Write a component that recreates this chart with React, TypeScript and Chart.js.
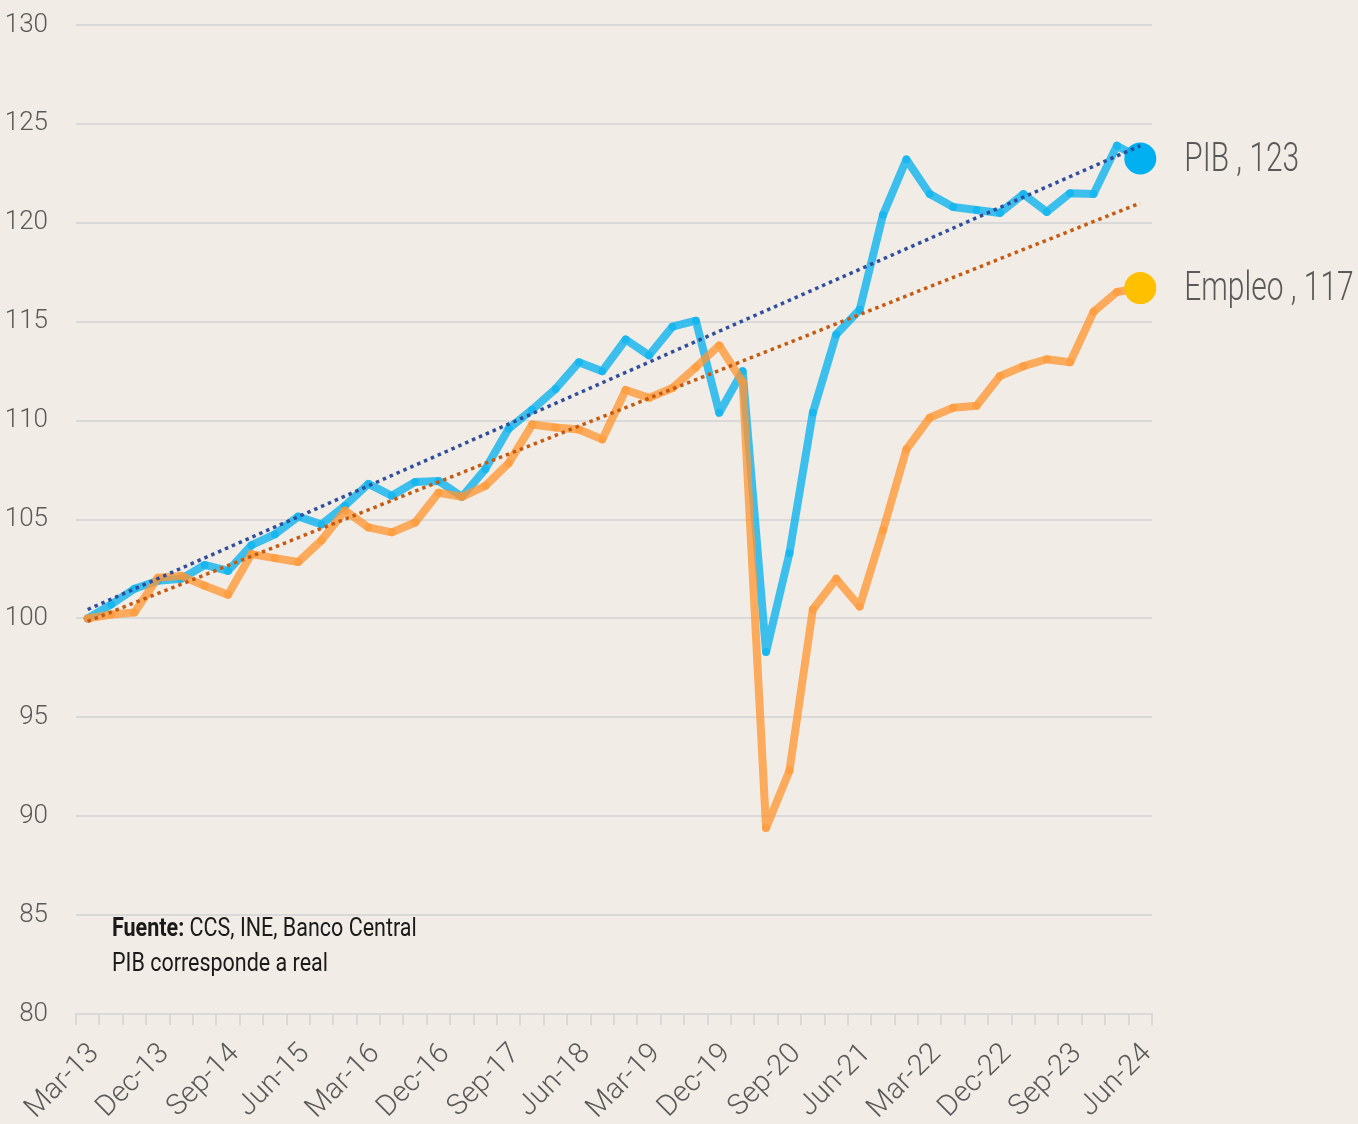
import React, { useEffect, useRef } from "react";
import { Chart, registerables } from "chart.js";

Chart.register(...registerables);

// ---------- DATA ----------
const quarters = [
  "Mar-13", "Jun-13", "Sep-13", "Dec-13",
  "Mar-14", "Jun-14", "Sep-14", "Dec-14",
  "Mar-15", "Jun-15", "Sep-15", "Dec-15",
  "Mar-16", "Jun-16", "Sep-16", "Dec-16",
  "Mar-17", "Jun-17", "Sep-17", "Dec-17",
  "Mar-18", "Jun-18", "Sep-18", "Dec-18",
  "Mar-19", "Jun-19", "Sep-19", "Dec-19",
  "Mar-20", "Jun-20", "Sep-20", "Dec-20",
  "Mar-21", "Jun-21", "Sep-21", "Dec-21",
  "Mar-22", "Jun-22", "Sep-22", "Dec-22",
  "Mar-23", "Jun-23", "Sep-23", "Dec-23",
  "Mar-24", "Jun-24",
];

const shownTickLabels = [
  "Mar-13", "Dec-13", "Sep-14", "Jun-15", "Mar-16", "Dec-16", "Sep-17", "Jun-18",
  "Mar-19", "Dec-19", "Sep-20", "Jun-21", "Mar-22", "Dec-22", "Sep-23", "Jun-24",
];

const pib = [
  100.0, 100.7, 101.5, 101.9, 102.0, 102.7, 102.4, 103.7, 104.25, 105.15,
  104.75, 105.7, 106.8, 106.2, 106.9, 106.95, 106.15, 107.55, 109.6, 110.55,
  111.6, 112.95, 112.5, 114.1, 113.3, 114.75, 115.05, 110.4, 112.5, 98.3,
  103.3, 110.4, 114.35, 115.6, 120.4, 123.2, 121.45, 120.8, 120.65, 120.5,
  121.45, 120.55, 121.5, 121.45, 123.9, 123.25,
];

const empleo = [
  100.0, 100.2, 100.3, 102.05, 102.15, 101.65, 101.2, 103.25, 103.05, 102.85,
  103.95, 105.45, 104.6, 104.35, 104.85, 106.35, 106.15, 106.7, 107.85, 109.8,
  109.65, 109.55, 109.05, 111.55, 111.15, 111.65, 112.7, 113.8, 111.95, 89.4,
  92.3, 100.45, 102.0, 100.6, 104.45, 108.55, 110.15, 110.65, 110.75, 112.25,
  112.75, 113.1, 112.95, 115.5, 116.5, 116.7,
];

// trend line end values (first and last quarter)
const pibTrendEnds = [100.45, 123.9];
const empleoTrendEnds = [99.85, 121.0];

const yTicks = [80, 85, 90, 95, 100, 105, 110, 115, 120, 125, 130];

// ---------- STYLE ----------
const BG = "#F2ECE6";
const GRID = "#D9D9D9";
const TICK_COLOR = "#595959";
const FONT = "Roboto, 'Liberation Sans', sans-serif";

const endLabelsPlugin = {
  id: "endLabels",
  afterDatasetsDraw(chart: any) {
    const ctx = chart.ctx;
    [0, 1].forEach((di) => {
      const meta = chart.getDatasetMeta(di);
      const pt = meta.data[meta.data.length - 1];
      const ds = chart.data.datasets[di];
      const v = ds.data[ds.data.length - 1];
      const text = `${ds.label} , ${Math.round(v)}`;
      ctx.save();
      ctx.font = `300 41px ${FONT}`;
      ctx.fillStyle = TICK_COLOR;
      ctx.textBaseline = "middle";
      ctx.textAlign = "left";
      ctx.translate(pt.x + 44, pt.y + 2);
      ctx.scale(0.73, 1);
      ctx.fillText(text, 0, 0);
      ctx.restore();
    });
  },
};

function trendData(ends: number[]) {
  return quarters.map((_, i) =>
    i === 0 ? ends[0] : i === quarters.length - 1 ? ends[1] : null
  );
}

export default function App() {
  const canvasRef = useRef<HTMLCanvasElement | null>(null);

  useEffect(() => {
    const canvas = canvasRef.current;
    if (!canvas) return;
    const last = quarters.length - 1;
    const chart = new Chart(canvas, {
      type: "line",
      data: {
        labels: quarters,
        datasets: [
          {
            label: "PIB",
            data: pib,
            borderColor: "rgba(0,176,240,0.75)",
            borderWidth: 8,
            borderJoinStyle: "round",
            borderCapStyle: "round",
            tension: 0,
            pointRadius: (c: any) => (c.dataIndex === last ? 16 : 4),
            pointBackgroundColor: (c: any) =>
              c.dataIndex === last ? "#00B0F0" : "rgba(0,176,240,0.6)",
            pointBorderWidth: 0,
            order: 2,
          },
          {
            label: "Empleo",
            data: empleo,
            borderColor: "rgba(255,150,50,0.77)",
            borderWidth: 8,
            borderJoinStyle: "round",
            borderCapStyle: "round",
            tension: 0,
            pointRadius: (c: any) => (c.dataIndex === last ? 16 : 4),
            pointBackgroundColor: (c: any) =>
              c.dataIndex === last ? "#FFC000" : "rgba(255,150,50,0.6)",
            pointBorderWidth: 0,
            order: 1,
          },
          {
            label: "Tendencia PIB",
            data: trendData(pibTrendEnds),
            borderColor: "#2F4E9C",
            borderWidth: 3.5,
            borderDash: [3.5, 4],
            borderCapStyle: "butt",
            spanGaps: true,
            pointRadius: 0,
            order: 0,
          },
          {
            label: "Tendencia Empleo",
            data: trendData(empleoTrendEnds),
            borderColor: "#C55A11",
            borderWidth: 3.5,
            borderDash: [3.5, 4],
            borderCapStyle: "butt",
            spanGaps: true,
            pointRadius: 0,
            order: 0,
          },
        ],
      },
      options: {
        responsive: false,
        animation: false,
        devicePixelRatio: 1,
        layout: { padding: { top: 25, right: 206, bottom: 0, left: 0 } },
        plugins: {
          legend: { display: false },
          tooltip: { enabled: false },
        },
        scales: {
          x: {
            type: "category",
            offset: true,
            grid: {
              display: true,
              offset: true,
              drawOnChartArea: false,
              drawTicks: true,
              tickLength: 11,
              color: GRID,
              lineWidth: 2,
            },
            border: { display: true, color: GRID, width: 2 },
            ticks: {
              autoSkip: false,
              maxRotation: 45,
              minRotation: 45,
              padding: 12,
              labelOffset: 7,
              color: TICK_COLOR,
              font: { family: FONT, size: 29, weight: "300" },
              callback: (_v: any, i: number) =>
                shownTickLabels.includes(quarters[i]) ? quarters[i] : "",
            },
            afterFit: (s: any) => {
              s.height = 110;
            },
          },
          y: {
            min: yTicks[0],
            max: yTicks[yTicks.length - 1],
            afterBuildTicks: (s: any) => {
              s.ticks = yTicks.map((v) => ({ value: v }));
            },
            grid: {
              color: GRID,
              lineWidth: 2,
              drawTicks: false,
            },
            border: { display: false },
            ticks: {
              padding: 28,
              color: TICK_COLOR,
              font: { family: FONT, size: 26, weight: "300" },
            },
            afterFit: (s: any) => {
              s.width = 76;
              s.paddingTop = 0;
              s.paddingBottom = 0;
            },
          },
        },
      },
      plugins: [endLabelsPlugin],
    } as any);
    return () => chart.destroy();
  }, []);

  return (
    <div
      style={{
        position: "absolute",
        left: 0,
        top: 0,
        width: 1358,
        height: 1124,
        background: BG,
        overflow: "hidden",
      }}
    >
      <canvas ref={canvasRef} width={1358} height={1124} style={{ display: "block" }} />
      <div
        style={{
          position: "absolute",
          left: 112,
          top: 910,
          fontFamily: FONT,
          fontSize: 25,
          lineHeight: "35px",
          color: "#1A1A1A",
          transform: "scaleX(0.86)",
          transformOrigin: "left top",
          whiteSpace: "nowrap",
        }}
      >
        <div>
          <span style={{ fontWeight: 700 }}>Fuente:</span> CCS, INE, Banco Central
        </div>
        <div>PIB corresponde a real</div>
      </div>
    </div>
  );
}
